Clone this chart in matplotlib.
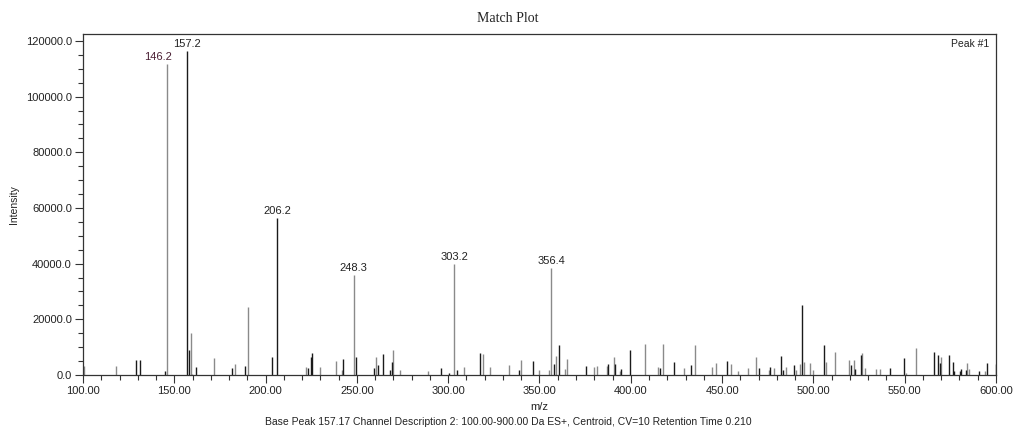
import matplotlib
matplotlib.use("Agg")
import matplotlib.pyplot as plt
from matplotlib.ticker import MultipleLocator, FormatStrFormatter
from matplotlib import font_manager

# ---------------- data ----------------
black_mz = [129.2, 131.4, 145.1, 157.2, 158.2, 162.0, 181.8, 188.9, 203.7, 206.2,
            223.3, 225.0, 225.6, 242.6, 249.3, 259.5, 261.7, 264.5, 268.3, 269.4,
            296.2, 300.5, 305.0, 317.6, 338.9, 346.6, 358.0, 360.8, 375.6, 387.7,
            391.2, 394.8, 399.4, 416.2, 423.8, 433.1, 452.7, 470.4, 476.4, 482.4,
            483.4, 489.6, 493.9, 506.0, 520.7, 522.9, 526.2, 542.0, 549.8, 566.2,
            568.4, 569.3, 574.3, 576.5, 577.0, 580.4, 581.0, 583.3, 590.8, 595.2,
            599.8]
black_int = [5400, 5400, 1500, 116400, 9000, 3000, 2500, 3300, 6500, 56400,
             2600, 6500, 7800, 5700, 6500, 2500, 3600, 7600, 1700, 4700,
             2500, 700, 1900, 7900, 1700, 4900, 4000, 10900, 3300, 4000,
             4000, 2300, 8900, 2500, 4700, 3600, 5100, 2500, 2900, 6900,
             1800, 3700, 25200, 10800, 3500, 2300, 7300, 2500, 6200, 8400,
             7300, 4300, 7300, 4700, 1500, 1500, 2300, 1900, 1500, 4400,
             3900]

gray_mz = [100.5, 117.9, 146.2, 159.0, 159.9, 171.6, 183.4, 190.2, 222.1, 229.6,
           238.6, 241.7, 248.3, 260.2, 269.9, 273.4, 289.1, 303.2, 308.4, 319.2,
           322.9, 333.4, 339.9, 349.5, 355.3, 356.4, 359.0, 363.8, 364.8, 379.7,
           381.3, 386.8, 390.8, 393.9, 407.8, 414.9, 417.6, 429.3, 434.9, 444.5,
           446.5, 454.7, 458.7, 464.0, 468.6, 475.7, 478.6, 485.0, 490.3, 492.8,
           494.9, 498.3, 499.6, 506.9, 511.8, 519.6, 522.0, 526.7, 528.4, 534.4,
           536.3, 550.9, 556.0, 570.0, 584.1, 585.0, 594.1]
gray_int = [3300, 3300, 111700, 15000, 500, 6200, 3800, 24500, 3000, 3000,
            5100, 1900, 35900, 6500, 8900, 1800, 1500, 39900, 2700, 7500,
            3000, 3600, 5400, 1800, 1900, 38400, 6900, 2100, 5900, 2700,
            3300, 3300, 6300, 1500, 11200, 2700, 11200, 2500, 10800, 2700,
            4300, 4000, 1500, 2500, 6300, 1700, 2500, 3000, 1800, 4100,
            4800, 4400, 1800, 4800, 8400, 5300, 5500, 7900, 2600, 2200,
            2200, 800, 9800, 6500, 4400, 2300, 1500]

label_mz = [146.2, 157.2, 206.2, 248.3, 303.2, 356.4]
label_int = [111700, 116400, 56400, 35900, 39900, 38400]
label_text = ["146.2", "157.2", "206.2", "248.3", "303.2", "356.4"]

title = "Match Plot"
caption = "Base Peak 157.17 Channel Description 2: 100.00-900.00 Da ES+, Centroid, CV=10 Retention Time 0.210"

# ---------------- fonts ----------------
avail = {f.name for f in font_manager.fontManager.ttflist}
narrow = "Liberation Sans Narrow" if "Liberation Sans Narrow" in avail else "Liberation Sans"

# ---------------- figure ----------------
fig = plt.figure(figsize=(10.16, 4.28), dpi=100)
ax = fig.add_axes([83/1016, 1 - 375/428, 913/1016, 340.7/428])

ax.vlines(gray_mz, 0, gray_int, colors="#8a8a8a", linewidth=1.0)
ax.vlines(black_mz, 0, black_int, colors="#1a1a1a", linewidth=1.0)

ax.set_xlim(100, 600)
ax.set_ylim(0, 122400)

offsets = [-9, 0, 0, 0, 0, 0]
colors = ["#4a1f33", "#222222", "#222222", "#222222", "#222222", "#222222"]
for mz, it, txt, dx, c in zip(label_mz, label_int, label_text, offsets, colors):
    ax.annotate(txt, (mz, it), xytext=(dx, 2), textcoords="offset pixels",
                ha="center", va="bottom", fontsize=8, color=c,
                family="Liberation Sans")

ax.text(0.993, 0.985, "Peak #1", transform=ax.transAxes, ha="right", va="top",
        fontsize=7.5, family="Liberation Sans", color="#222222")

ax.xaxis.set_major_locator(MultipleLocator(50))
ax.xaxis.set_minor_locator(MultipleLocator(10))
ax.yaxis.set_major_locator(MultipleLocator(20000))
ax.yaxis.set_minor_locator(MultipleLocator(5000))
ax.xaxis.set_major_formatter(FormatStrFormatter("%.2f"))
ax.yaxis.set_major_formatter(FormatStrFormatter("%.1f"))

ax.tick_params(axis="both", which="major", direction="out", length=6, width=0.8,
               color="#333333", labelsize=8, pad=2)
ax.tick_params(axis="both", which="minor", direction="out", length=3.5, width=0.8,
               color="#333333")
for lbl in ax.get_xticklabels() + ax.get_yticklabels():
    lbl.set_family(narrow)
    lbl.set_color("#222222")

for s in ax.spines.values():
    s.set_color("#333333")
    s.set_linewidth(0.9)

ax.set_xlabel("m/z", fontsize=8, family=narrow, color="#222222", labelpad=4)
ax.set_ylabel("Intensity", fontsize=7.5, family="Liberation Sans", color="#222222", labelpad=5)
fig.text(0.5, 1 - 18/428, title, ha="center", va="center", fontsize=10,
         family="Liberation Serif", color="#222222")
fig.text(0.5, 1 - 422/428, caption, ha="center", va="center", fontsize=7.5,
         family=narrow, color="#222222")

fig.savefig("out.png", dpi=100)
